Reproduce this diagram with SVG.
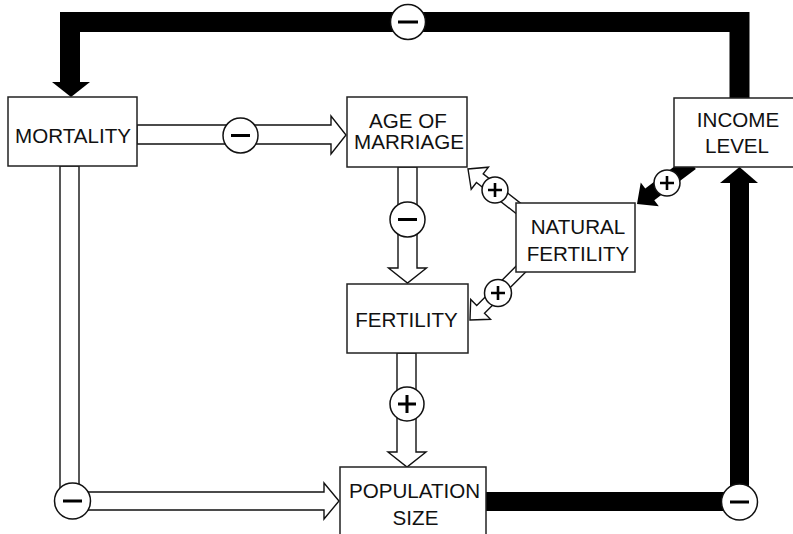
<svg xmlns="http://www.w3.org/2000/svg" width="793" height="534" viewBox="0 0 793 534">
<style>
.box{fill:#fff;stroke:#222;stroke-width:1.5}
.txt{font-family:"Liberation Sans",Arial,sans-serif;font-size:20.6px;fill:#111;text-anchor:middle}
.hol{fill:#fff;stroke:#111;stroke-width:1.4;stroke-linejoin:miter}
.blk{fill:#000}
.sig{fill:#fff;stroke:#111;stroke-width:1.5}
.bar{stroke:#000;stroke-width:3;fill:none}
.bar2{stroke:#000;stroke-width:2.6;fill:none}
</style>
<rect width="793" height="534" fill="#fff"/>
<g id="connectors">
  <path d="M70 84 V22 H739.5 V98" fill="none" stroke="#000" stroke-width="20" stroke-linejoin="miter"/>
  <polygon class="blk" points="52,82 90,82 71,97"/>
  <path d="M486 501.5 H739.5 V182" fill="none" stroke="#000" stroke-width="19" stroke-linejoin="miter"/>
  <polygon class="blk" points="720,183 758,183 739.5,167"/>
  <polygon class="blk" transform="translate(637,204) rotate(143)" points="0,0 -16,-15 -16,-7.5 -68,-7.5 -68,7.5 -16,7.5 -16,15"/>
  <polygon class="hol" points="137,125 331,125 331,116 346,135 331,154 331,144 137,144"/>
  <polygon class="hol" points="60,166 60,510 324,510 324,519 339,501 324,483 324,492 79,492 79,166"/>
  <polygon class="hol" points="398,167 398,268 388.5,268 407.5,283 426.5,268 417,268 417,167"/>
  <polygon class="hol" points="397,353 397,452 388,452 407,467 426,452 416,452 416,353"/>
  <polygon class="hol" transform="translate(468,169) rotate(218)" points="0,0 -15,-14 -15,-5.5 -75,-5.5 -75,5.5 -15,5.5 -15,14"/>
  <polygon class="hol" transform="translate(470,320) rotate(135)" points="0,0 -15,-14 -15,-5.5 -80,-5.5 -80,5.5 -15,5.5 -15,14"/>
</g>
<g id="mortality"><rect class="box" x="8" y="97" width="129" height="69"/><text class="txt" x="73" y="143">MORTALITY</text></g>
<g id="age-of-marriage"><rect class="box" x="347" y="97" width="120" height="70"/><text class="txt" x="408" y="128">AGE OF</text><text class="txt" x="409" y="149">MARRIAGE</text></g>
<g id="income-level"><rect class="box" x="674" y="98" width="130" height="69"/><text class="txt" x="738" y="127">INCOME</text><text class="txt" x="737" y="153">LEVEL</text></g>
<g id="natural-fertility"><rect class="box" x="516" y="203" width="119" height="69"/><text class="txt" x="578" y="234">NATURAL</text><text class="txt" x="578" y="261">FERTILITY</text></g>
<g id="fertility"><rect class="box" x="347" y="284" width="121" height="69"/><text class="txt" x="406.5" y="327">FERTILITY</text></g>
<g id="population-size"><rect class="box" x="340" y="467" width="146" height="80"/><text class="txt" x="414.5" y="498">POPULATION</text><text class="txt" x="415.5" y="525">SIZE</text></g>
<g id="signs">
  <circle class="sig" cx="408" cy="22" r="17.5"/><path class="bar" d="M398 22 H418"/>
  <circle class="sig" cx="240.5" cy="135.5" r="17.5"/><path class="bar" d="M231 135.5 H250"/>
  <circle class="sig" cx="72.5" cy="501" r="18"/><path class="bar" d="M63 501 H82"/>
  <circle class="sig" cx="739.5" cy="502" r="18"/><path class="bar" d="M730 502 H749"/>
  <circle class="sig" cx="407.5" cy="219.5" r="17.5"/><path class="bar" d="M398 219.5 H417"/>
  <circle class="sig" cx="407" cy="404" r="17"/><path class="bar" d="M398 404 H416 M407 395 V413"/>
  <circle class="sig" cx="495" cy="190" r="13"/><path class="bar2" d="M488 190 H502 M495 183 V197"/>
  <circle class="sig" cx="667" cy="183" r="13"/><path class="bar2" d="M660 183 H674 M667 176 V190"/>
  <circle class="sig" cx="498" cy="293" r="13.5"/><path class="bar2" d="M491 293 H505 M498 286 V300"/>
</g>
</svg>
